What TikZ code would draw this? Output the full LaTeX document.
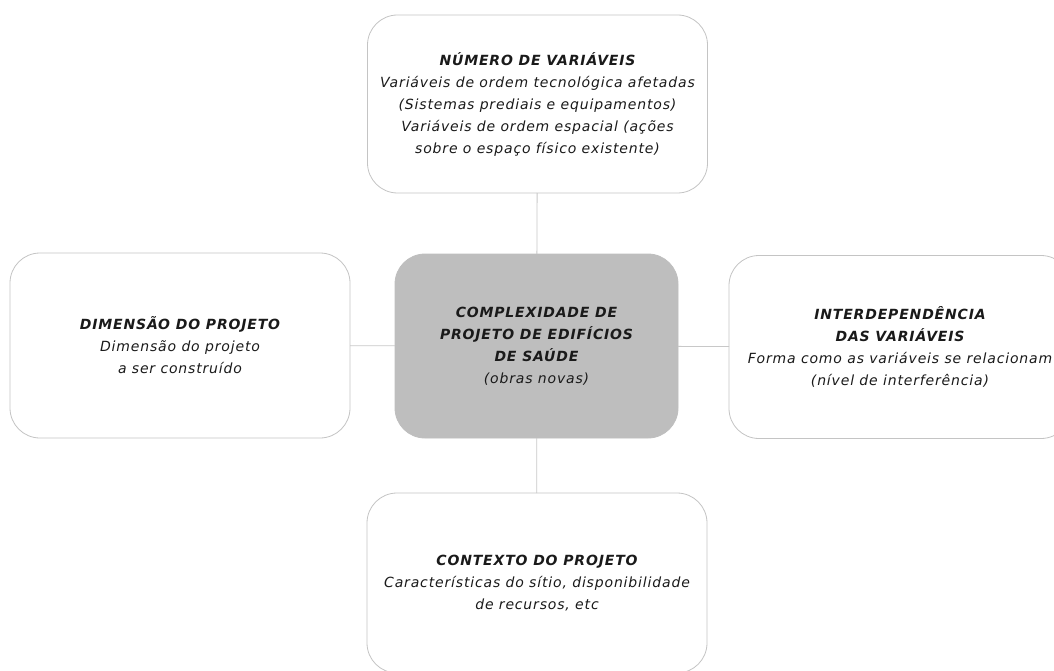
\documentclass[tikz,border=0pt]{standalone}
\usepackage{fontspec}
\setmainfont{DejaVu Sans}[LetterSpace=6]
\usepackage{tikz}
\usetikzlibrary{positioning}
\definecolor{boxline}{HTML}{C4C4C4}
\definecolor{linkgray}{HTML}{C8C8C8}
\definecolor{hubfill}{HTML}{BEBEBE}
\definecolor{inkblack}{HTML}{1A1A1A}

\newcommand{\boxhead}[1]{{\bfseries #1}}

\tikzset{
  topicbox/.style={draw=boxline,line width=0.8pt,fill=white,rounded corners=30pt,
    minimum width=340pt,minimum height=180pt,outer sep=0pt,align=center,
    text=inkblack,font=\fontsize{14}{22}\selectfont\itshape},
  hubbox/.style={topicbox,draw=hubfill,fill=hubfill,minimum width=283pt,
    minimum height=184pt},
  link/.style={draw=linkgray,line width=0.8pt}
}

\begin{document}
\begin{tikzpicture}[x=1pt,y=-1pt]
  \useasboundingbox (0,0) rectangle (1054,671);
  \fill[white] (0,0) rectangle (1054,671);
  \node[hubbox] (cplx) at (536.5,346)
    {\boxhead{COMPLEXIDADE DE}\\\boxhead{PROJETO DE EDIFÍCIOS}\\\boxhead{DE SAÚDE}\\(obras novas)};
  \node[topicbox,minimum height=178pt] (numvar) at (537.5,104)
    {\boxhead{NÚMERO DE VARIÁVEIS}\\Variáveis de ordem tecnológica afetadas\\
     (Sistemas prediais e equipamentos)\\Variáveis de ordem espacial (ações\\
     sobre o espaço físico existente)};
  \node[topicbox,minimum height=185pt] (dimproj) at (180,345.5)
    {\boxhead{DIMENSÃO DO PROJETO}\\Dimensão do projeto\\a ser construído};
  \node[topicbox,minimum width=342pt,minimum height=183pt] (interdep) at (900,347)
    {\boxhead{INTERDEPENDÊNCIA}\\\boxhead{DAS VARIÁVEIS}\\Forma como as variáveis se relacionam\\
     (nível de interferência)};
  \node[topicbox] (contexto) at (537,583)
    {\boxhead{CONTEXTO DO PROJETO}\\Características do sítio, disponibilidade\\de recursos, etc};
  % connectors
  \draw[link] (numvar) -- (cplx);
  \draw[link] (cplx) -- (contexto);
  \draw[link] (dimproj) -- (cplx);
  \draw[link] (cplx) -- (interdep);
\end{tikzpicture}
\end{document}
